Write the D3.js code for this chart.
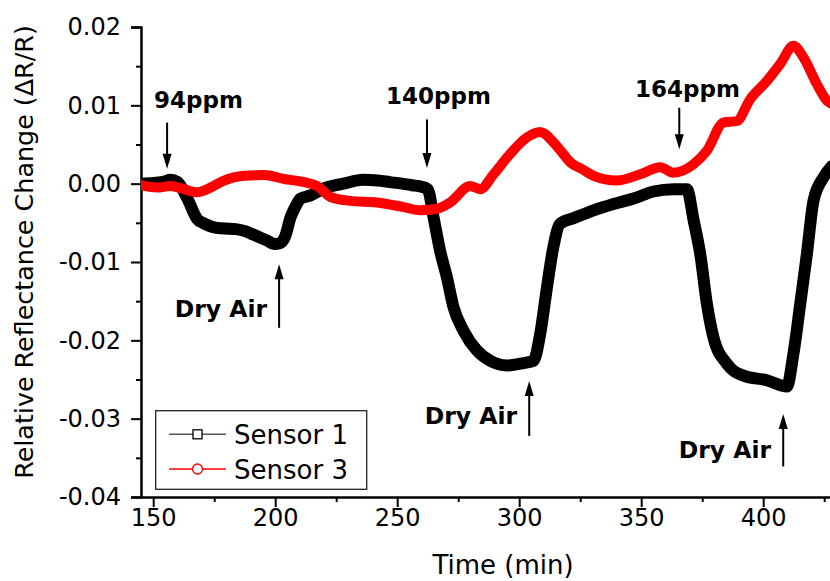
<!DOCTYPE html>
<html>
<head>
<meta charset="utf-8">
<script src="https://cdn.jsdelivr.net/npm/d3@7"></script>
<style>
  html, body { margin: 0; padding: 0; background: #fff; }
  svg text { font-family: "DejaVu Sans", sans-serif; }
</style>
</head>
<body>
<svg id="chart" width="830" height="581"></svg>
<script>
// ---- data ----
const sensor1Time = [145, 150, 155, 157, 160, 164, 168, 171, 174, 178, 184, 188, 191, 194, 197, 199.5, 202, 204, 206.3, 208.5, 210.4, 214.5, 220, 228, 236, 242, 247, 252, 256, 260, 262.5, 264.9, 267.6, 270.4, 273.1, 277.2, 282.7, 288.1, 295, 301.8, 305.9, 308.6, 311.4, 314, 316.8, 322.3, 330.5, 338.7, 346.9, 355, 363.2, 368.7, 371.5, 374.2, 376.9, 379.6, 385.1, 391.9, 401.5, 409.7, 412.4, 415.2, 417.9, 420.6, 424.7, 428];
const sensor1Values = [0.0000, 0.0001, 0.0003, 0.0005, 0.0002, -0.0019, -0.0045, -0.0051, -0.0055, -0.0057, -0.0058, -0.0061, -0.0065, -0.0069, -0.0073, -0.0077, -0.0076, -0.0068, -0.0043, -0.0028, -0.0019, -0.0015, -0.0006, 0.0000, 0.0005, 0.0004, 0.0002, 0.0000, -0.0002, -0.0004, -0.0007, -0.0043, -0.0086, -0.0120, -0.0158, -0.0188, -0.0213, -0.0226, -0.0232, -0.0229, -0.0226, -0.0192, -0.0132, -0.0081, -0.0051, -0.0044, -0.0034, -0.0026, -0.0019, -0.0010, -0.0007, -0.0007, -0.0047, -0.0090, -0.0153, -0.0196, -0.0230, -0.0245, -0.0251, -0.0259, -0.0217, -0.0153, -0.0090, -0.0022, 0.0008, 0.0022];

const sensor3Time = [145, 151.6, 157, 162.6, 168, 173.5, 179, 187.2, 195.4, 203.6, 211.8, 217.2, 222.7, 230.9, 241.8, 252.7, 259.4, 266.3, 271.7, 279.9, 284, 289.5, 296.3, 303.2, 308.6, 314, 317.5, 321, 325.5, 330.5, 340, 349.6, 357.8, 363.2, 371.5, 376.9, 383.7, 389.2, 394.7, 401.5, 407, 412.4, 416.5, 422, 426.1, 428];
const sensor3Values = [-0.0002, -0.0005, -0.0003, -0.0007, -0.0011, -0.0005, 0.0004, 0.0010, 0.0011, 0.0006, 0.0002, -0.0003, -0.0017, -0.0022, -0.0024, -0.0030, -0.0034, -0.0032, -0.0024, -0.0003, -0.0007, 0.0012, 0.0038, 0.0059, 0.0066, 0.0053, 0.0040, 0.0027, 0.0019, 0.0010, 0.0004, 0.0012, 0.0021, 0.0014, 0.0025, 0.0042, 0.0078, 0.0080, 0.0108, 0.0131, 0.0153, 0.0176, 0.0161, 0.0127, 0.0106, 0.0102];

const seriesNames = ["Sensor 1", "Sensor 3"];
const xMajorTicks = [150, 200, 250, 300, 350, 400];
const xMinorTicks = [175, 225, 275, 325, 375, 425];
const yMajorTicks = [-0.04, -0.03, -0.02, -0.01, 0.00, 0.01, 0.02];
const yMinorTicks = [-0.035, -0.025, -0.015, -0.005, 0.005, 0.015];

// annotations: label, time of arrow, arrow tail value, arrow tip value
const ppmLabels = ["94ppm", "140ppm", "164ppm"];
const ppmTimes = [155.7, 262.2, 365.6];
const ppmTail = [0.0078, 0.0082, 0.0097];
const ppmTip = [0.0019, 0.0020, 0.0044];
const airLabel = "Dry Air";
const airTimes = [201.6, 304.1, 408.2];
const airTail = [-0.0184, -0.0322, -0.0361];
const airTip = [-0.0103, -0.0252, -0.0294];

// ---- layout ----
const svg = d3.select("#chart");
const x = d3.scaleLinear().domain([145, 430]).range([141, 836.4]);
const y = d3.scaleLinear().domain([-0.04, 0.02]).range([497, 27]);

svg.append("defs").append("clipPath").attr("id", "clip")
  .append("rect").attr("x", 141).attr("y", 0).attr("width", 700).attr("height", 497);

const fmt = d => d.toFixed(2);

// y axis
const gy = svg.append("g").attr("transform", "translate(141,0)");
gy.call(d3.axisLeft(y).tickValues(yMajorTicks).tickFormat(fmt).tickSize(10).tickPadding(10));
const gyMinor = svg.append("g").attr("transform", "translate(141,0)");
gyMinor.call(d3.axisLeft(y).tickValues(yMinorTicks).tickFormat("").tickSize(5));
gyMinor.select(".domain").remove();

// x axis
const gx = svg.append("g").attr("transform", "translate(0,497)");
gx.call(d3.axisBottom(x).tickValues(xMajorTicks).tickFormat(d3.format("d")).tickSize(10).tickPadding(2).tickSizeOuter(0));
const gxMinor = svg.append("g").attr("transform", "translate(0,497)");
gxMinor.call(d3.axisBottom(x).tickValues(xMinorTicks).tickFormat("").tickSize(5));
gxMinor.select(".domain").remove();

svg.selectAll(".domain").attr("stroke", "#000").attr("stroke-width", 2.5);
svg.selectAll(".tick line").attr("stroke", "#000").attr("stroke-width", 2);
svg.selectAll(".tick text").attr("font-size", 24).attr("fill", "#000")
  .attr("font-family", "DejaVu Sans, sans-serif");

// axis titles
svg.append("text").attr("x", 503).attr("y", 574).attr("text-anchor", "middle")
  .attr("font-size", 26).text("Time (min)");
svg.append("text").attr("transform", "translate(33,252) rotate(-90)").attr("text-anchor", "middle")
  .attr("font-size", 25.4).text("Relative Reflectance Change (\u0394R/R)");

// series
const plot = svg.append("g").attr("clip-path", "url(#clip)");
const line = d3.line().x(d => x(d[0])).y(d => y(d[1])).curve(d3.curveMonotoneX);
const s1 = sensor1Time.map((t, i) => [t, sensor1Values[i]]);
const s3 = sensor3Time.map((t, i) => [t, sensor3Values[i]]);
plot.append("path").datum(s1).attr("d", line).attr("fill", "none")
  .attr("stroke", "#000").attr("stroke-width", 12).attr("stroke-linejoin", "round").attr("stroke-linecap", "round");
plot.append("path").datum(s3).attr("d", line).attr("fill", "none")
  .attr("stroke", "#ff0000").attr("stroke-width", 10).attr("stroke-linejoin", "round").attr("stroke-linecap", "round");

// arrows
function arrow(t, v0, v1) {
  const xa = x(t), y0 = y(v0), y1 = y(v1);
  const dir = y1 > y0 ? 1 : -1;
  const headLen = 15, headW = 4.5;
  svg.append("line").attr("x1", xa).attr("x2", xa).attr("y1", y0).attr("y2", y1 - dir * headLen + dir * 2)
    .attr("stroke", "#000").attr("stroke-width", 2);
  svg.append("path")
    .attr("d", `M${xa},${y1} L${xa - headW},${y1 - dir * headLen} L${xa + headW},${y1 - dir * headLen} Z`)
    .attr("fill", "#000");
}
ppmLabels.forEach((lab, i) => {
  arrow(ppmTimes[i], ppmTail[i], ppmTip[i]);
});
const ppmLabelX = [154, 386, 635];
const ppmLabelY = [108, 104, 97];
ppmLabels.forEach((lab, i) => {
  svg.append("text").attr("x", ppmLabelX[i]).attr("y", ppmLabelY[i])
    .attr("font-size", 23).attr("font-weight", "bold").text(lab);
});
airTimes.forEach((t, i) => {
  arrow(t, airTail[i], airTip[i]);
  svg.append("text").attr("x", x(t) - 12).attr("y", [317, 424, 458][i])
    .attr("text-anchor", "end").attr("font-size", 23.5).attr("font-weight", "bold").text(airLabel);
});

// legend
const lg = svg.append("g");
lg.append("rect").attr("x", 155.7).attr("y", 410.7).attr("width", 211).attr("height", 78.6)
  .attr("fill", "#fff").attr("stroke", "#222").attr("stroke-width", 1.3);
const legendColors = ["#555", "#ff0000"];
const legendY = [434.3, 469];
seriesNames.forEach((name, i) => {
  lg.append("line").attr("x1", 169).attr("x2", 226).attr("y1", legendY[i]).attr("y2", legendY[i])
    .attr("stroke", legendColors[i]).attr("stroke-width", 1.5);
  if (i === 0) {
    lg.append("rect").attr("x", 193).attr("y", legendY[i] - 4.5).attr("width", 9).attr("height", 9)
      .attr("fill", "#fff").attr("stroke", "#000").attr("stroke-width", 1.3);
  } else {
    lg.append("circle").attr("cx", 197.5).attr("cy", legendY[i]).attr("r", 5)
      .attr("fill", "#fff").attr("stroke", "#ff0000").attr("stroke-width", 1.3);
  }
  lg.append("text").attr("x", 234).attr("y", legendY[i] + 9.5).attr("font-size", 26).text(name);
});
</script>
</body>
</html>
